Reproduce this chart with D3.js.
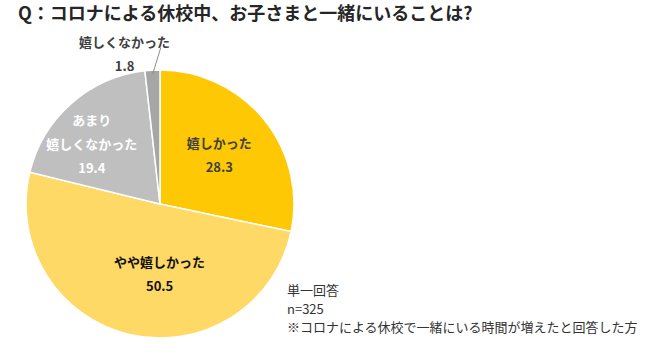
<!DOCTYPE html>
<html>
<head>
<meta charset="utf-8">
<script src="https://cdn.jsdelivr.net/npm/d3@7"></script>
<style>
  body { margin: 0; background: #fff; }
  svg text { font-family: "Noto Sans CJK JP", "Noto Sans", sans-serif; }
</style>
</head>
<body>
<div id="chart"></div>
<script>
// answers, clockwise from 12 o'clock
var categories = ["嬉しかった", "やや嬉しかった", "あまり\n嬉しくなかった", "嬉しくなかった"];
var values = [28.3, 50.5, 19.4, 1.8];
var colors = ["#FFC805", "#FFD966", "#BFBFBF", "#A6A6A6"];
var labelColors = ["#404040", "#111111", "#ffffff", "#404040"];
var notes = ["単一回答", "n=325", "※コロナによる休校で一緒にいる時間が増えたと回答した方"];
var title = "Q：コロナによる休校中、お子さまと一緒にいることは?";

var width = 650, height = 352;
var cx = 160, cy = 204, radius = 134;

var svg = d3.select("#chart").append("svg")
    .attr("width", width)
    .attr("height", height);

svg.append("text")
    .attr("x", 18)
    .attr("y", 20)
    .attr("font-size", 18)
    .attr("font-weight", "bold")
    .attr("fill", "#262626")
    .text(title);

var data = categories.map(function(c, i) {
    return {name: c, value: values[i], color: colors[i], textColor: labelColors[i]};
});

var pie = d3.pie()
    .sort(null)
    .value(function(d) { return d.value; });

var arc = d3.arc().innerRadius(0).outerRadius(radius);

var g = svg.append("g")
    .attr("transform", "translate(" + cx + "," + cy + ")");

var arcs = pie(data);

g.selectAll("path")
    .data(arcs)
    .enter().append("path")
    .attr("d", arc)
    .attr("fill", function(d) { return d.data.color; })
    .attr("stroke", "#fff")
    .attr("stroke-width", 1.5);

// label distance as fraction of radius, plus small nudges
var labelR = [0.57, 0.52, 0.69, 1.12];
var nudge = [[0, 0], [15, 2], [-7, 10], [-27, 0]];

arcs.forEach(function(d, i) {
    var lines = d.data.name.split("\n").concat([d.data.value.toFixed(1)]);
    var r = radius * labelR[i];
    var pos = d3.arc().innerRadius(r).outerRadius(r).centroid(d);
    pos[0] += nudge[i][0];
    pos[1] += nudge[i][1];

    if (i == 3) {
        // small slice: leader line up to the outside label
        var p0 = d3.arc().innerRadius(radius - 4).outerRadius(radius - 4).centroid(d);
        g.append("line")
            .attr("x1", p0[0]).attr("y1", p0[1])
            .attr("x2", p0[0] + 8).attr("y2", -radius - 22)
            .attr("stroke", "#8c8c8c")
            .attr("stroke-width", 1);
    }

    var lineH = 24;
    var startY = pos[1] - (lines.length - 1) * lineH / 2;
    lines.forEach(function(t, j) {
        g.append("text")
            .attr("x", pos[0])
            .attr("y", startY + j * lineH)
            .attr("dy", "0.35em")
            .attr("text-anchor", "middle")
            .attr("font-size", 13)
            .attr("font-weight", "bold")
            .attr("fill", d.data.textColor)
            .text(t);
    });
});

var notesG = svg.append("g");
notes.forEach(function(t, i) {
    notesG.append("text")
        .attr("x", 287)
        .attr("y", 295 + i * 18.5)
        .attr("font-size", 13)
        .attr("fill", "#333")
        .text(t);
});
</script>
</body>
</html>
